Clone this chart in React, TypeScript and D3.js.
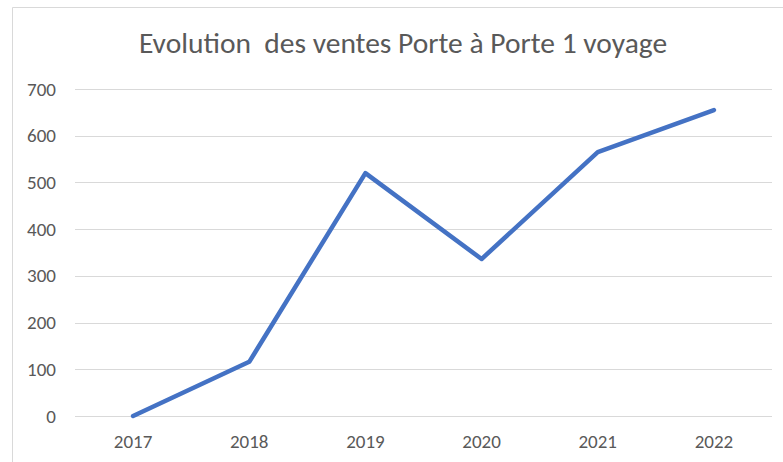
import React, { useEffect, useRef } from "react";
import * as d3 from "d3";

const years = ["2017", "2018", "2019", "2020", "2021", "2022"];
const ventes = [0, 116, 520, 336, 565, 655];
const yTicks = [0, 100, 200, 300, 400, 500, 600, 700];
const titre = "Evolution  des ventes Porte à Porte 1 voyage";

const W = 783;
const H = 462;

export default function App() {
  const ref = useRef<SVGSVGElement>(null);

  useEffect(() => {
    const svg = d3.select(ref.current);
    svg.selectAll("*").remove();

    const font = "Carlito, 'Open Sans', 'Liberation Sans', sans-serif";
    const x = d3.scaleBand().domain(years).range([75, 772]);
    const y = d3.scaleLinear().domain([0, 700]).range([416, 89]);

    // cadre du graphique
    svg.append("rect").attr("x", 0).attr("y", 0).attr("width", W).attr("height", H).attr("fill", "#fff");
    svg.append("path")
      .attr("d", `M12.5,${H} V7.5 H${W}`)
      .attr("fill", "none").attr("stroke", "#d9d9d9").attr("stroke-width", 1);

    svg.append("text")
      .attr("x", 403).attr("y", 53)
      .attr("text-anchor", "middle")
      .attr("xml:space", "preserve")
      .style("white-space", "pre")
      .attr("font-family", font).attr("font-size", 29.5)
      .attr("fill", "#595959")
      .text(titre);

    svg.append("g").selectAll("line").data(yTicks).enter().append("line")
      .attr("x1", 75).attr("x2", 772)
      .attr("y1", d => Math.round(y(d)) + 0.5).attr("y2", d => Math.round(y(d)) + 0.5)
      .attr("stroke", "#d9d9d9").attr("stroke-width", 1);

    svg.append("g").selectAll("text").data(yTicks).enter().append("text")
      .attr("x", 56).attr("y", d => y(d) + 6.5)
      .attr("text-anchor", "end")
      .attr("font-family", font).attr("font-size", 19)
      .attr("fill", "#595959")
      .text(d => d);

    svg.append("g").selectAll("text").data(years).enter().append("text")
      .attr("x", d => x(d)! + x.bandwidth() / 2).attr("y", 448)
      .attr("text-anchor", "middle")
      .attr("font-family", font).attr("font-size", 19)
      .attr("fill", "#595959")
      .text(d => d);

    const line = d3.line<number>()
      .x((d, i) => x(years[i])! + x.bandwidth() / 2)
      .y(d => y(d));

    svg.append("path").datum(ventes)
      .attr("d", line)
      .attr("fill", "none")
      .attr("stroke", "#4472C4")
      .attr("stroke-width", 4.5)
      .attr("stroke-linecap", "round")
      .attr("stroke-linejoin", "round");
  }, []);

  return <svg ref={ref} width={W} height={H} style={{ position: "absolute", left: 0, top: 0 }} />;
}
